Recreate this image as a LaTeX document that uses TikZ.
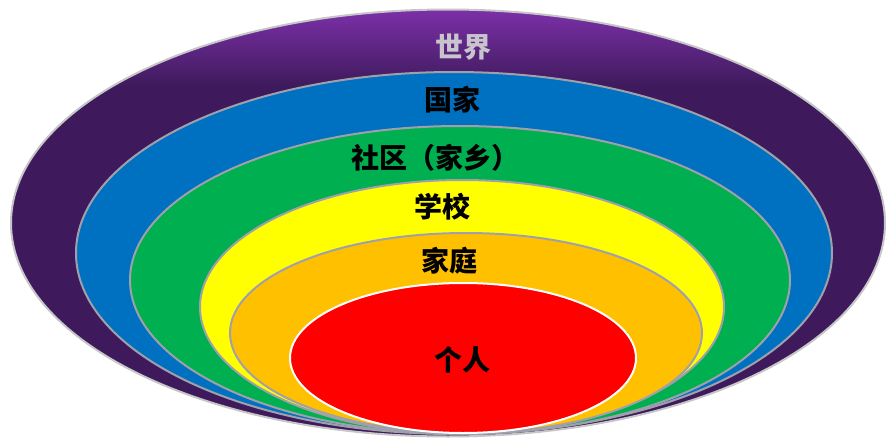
\documentclass[tikz,border=0pt]{standalone}
\usepackage{fontspec}
\usepackage{xcolor}
\usepackage{tikz}
\usetikzlibrary{
    shapes.geometric
}

\newfontfamily\cjk{Noto Sans CJK SC}
\definecolor{worlddark}{RGB}{62,26,92}
\definecolor{worldlight}{RGB}{124,48,168}
\definecolor{countryblue}{RGB}{0,112,192}
\definecolor{communitygreen}{RGB}{0,176,80}
\definecolor{schoolyellow}{RGB}{255,255,0}
\definecolor{familyorange}{RGB}{255,192,0}
\definecolor{selfred}{RGB}{255,0,0}
\definecolor{ringgray}{RGB}{160,160,172}
\definecolor{worldtext}{RGB}{200,196,206}
\pgfdeclareverticalshading{worldshade}{100bp}{color(0bp)=(worlddark); color(66bp)=(worlddark); color(75bp)=(worldlight); color(100bp)=(worldlight)}

\begin{document}
\begin{tikzpicture}[x=1pt,y=-1pt]
    \tikzstyle{ring}=[ellipse, inner sep=0pt, outer sep=0pt, draw=ringgray, line width=2pt]
    \tikzstyle{tag}=[inner sep=0pt, font=\cjk\bfseries\fontsize{28pt}{32pt}\selectfont]

    \useasboundingbox (0,0) rectangle (892,439);

    % rings, outermost first
    \node[ring, shade, shading=worldshade, draw=gray!45, minimum width=874pt, minimum height=427pt] (world) at (448,223) {};
    \node[ring, fill=countryblue, minimum width=756pt, minimum height=362pt] (country) at (454,253) {};
    \node[ring, fill=communitygreen, minimum width=660pt, minimum height=308pt] (community) at (460,280) {};
    \node[ring, fill=schoolyellow, minimum width=524pt, minimum height=254pt] (school) at (462,307) {};
    \node[ring, fill=familyorange, minimum width=472pt, minimum height=200pt] (family) at (466,333) {};
    \node[ring, fill=selfred, draw=white, minimum width=346pt, minimum height=150pt] (self) at (463,358) {};

    % labels
    \node[tag, text=worldtext] (worldname) at (463,47) {世界};
    \node[tag] (countryname) at (452,100) {国家};
    \node[tag] (communityname) at (435,158) {社区（家乡）};
    \node[tag] (schoolname) at (442,207) {学校};
    \node[tag] (familyname) at (449,261) {家庭};
    \node[tag] (selfname) at (462,360) {个人};
\end{tikzpicture}
\end{document}
